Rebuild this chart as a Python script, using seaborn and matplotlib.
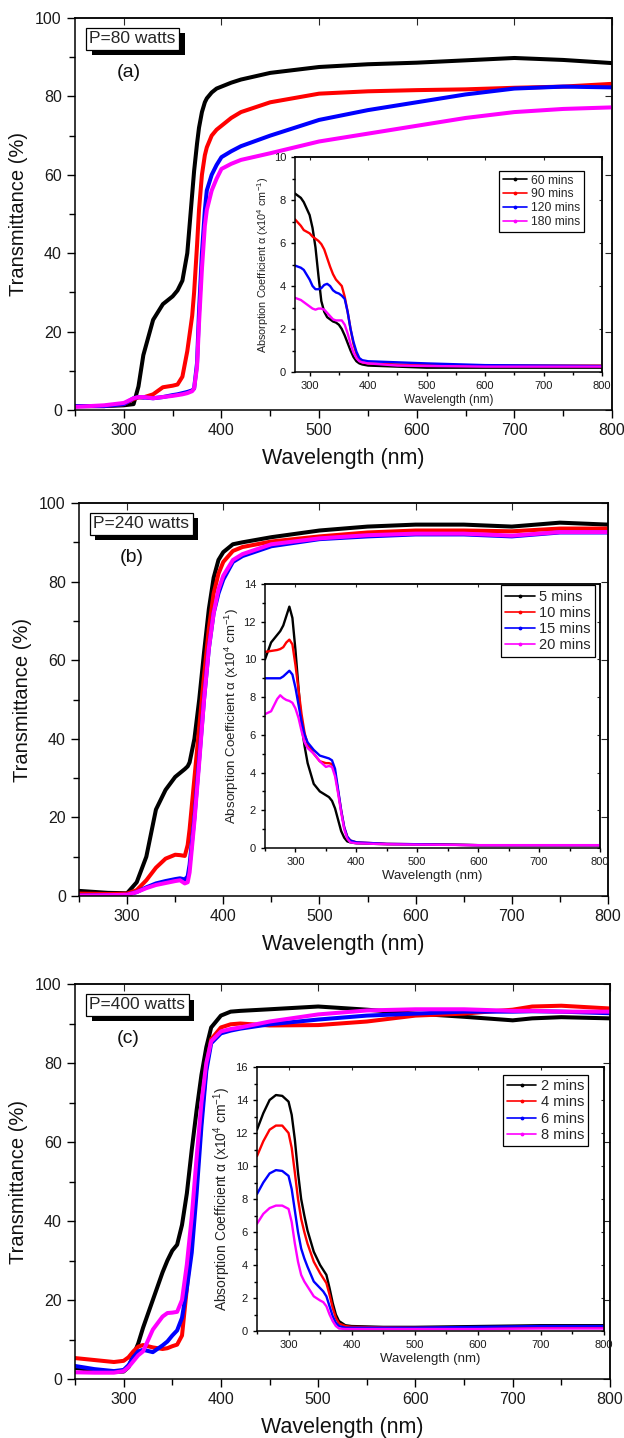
import numpy as np
import pandas as pd
import matplotlib
matplotlib.use("Agg")
import matplotlib.pyplot as plt
import matplotlib.patheffects as pe
from matplotlib.lines import Line2D
from matplotlib.ticker import MultipleLocator
import seaborn as sns

# ---------------- data ----------------
colors = ["#000000", "#ff0000", "#0000ff", "#ff00ff"]

# (a) P = 80 watts, main transmittance
wl_a = [250, 280, 300, 310, 315, 320, 330, 340, 350, 355, 360, 365, 370, 372, 375, 377,
        380, 383, 385, 390, 395, 400, 410, 420, 450, 500, 550, 600, 650, 700, 750, 800]
T_a_60 = [1.0, 1.0, 1.2, 1.5, 6, 14, 23, 27, 29, 30.5, 33, 40, 55, 61, 68, 72,
          76, 78.5, 79.5, 81, 82, 82.5, 83.5, 84.3, 86, 87.5, 88.2, 88.6, 89.2, 89.8, 89.3, 88.5]
T_a_90 = [1.0, 1.0, 1.5, 2.8, 3.2, 3.2, 4.0, 5.8, 6.2, 6.5, 8.5, 15, 24, 30, 42, 51,
          60, 65, 67, 70, 71.5, 72.5, 74.5, 76, 78.5, 80.7, 81.3, 81.6, 81.8, 82.2, 82.5, 83.2]
T_a_120 = [1.0, 1.0, 1.5, 3.0, 3.3, 3.2, 3.0, 3.3, 3.8, 4.0, 4.3, 4.6, 5.0, 5.5, 12, 25,
           40, 51, 56, 60, 62.5, 64.5, 66, 67.3, 70, 74, 76.5, 78.5, 80.5, 82, 82.5, 82.3]
T_a_180 = [0.8, 1.2, 1.8, 3.0, 3.3, 3.3, 3.0, 3.3, 3.6, 3.8, 4.0, 4.3, 4.8, 5.5, 11, 22,
           36, 47, 51, 56, 59, 61.5, 62.8, 63.8, 65.5, 68.5, 70.5, 72.5, 74.5, 76, 76.8, 77.2]
lab_a = ["60 mins", "90 mins", "120 mins", "180 mins"]

# (a) inset, absorption coefficient
wl_ia = [275, 285, 290, 300, 305, 310, 315, 320, 325, 330, 335, 340, 345, 350, 355, 360,
         365, 370, 375, 380, 385, 390, 400, 450, 500, 600, 700, 800]
A_a_60 = [8.3, 8.1, 7.9, 7.3, 6.7, 5.8, 4.5, 3.3, 2.8, 2.55, 2.45, 2.35, 2.3, 2.2, 2.0, 1.7,
          1.35, 1.0, 0.7, 0.5, 0.4, 0.35, 0.3, 0.25, 0.2, 0.2, 0.2, 0.2]
A_a_90 = [7.1, 6.8, 6.6, 6.45, 6.3, 6.2, 6.1, 5.95, 5.7, 5.3, 4.9, 4.55, 4.3, 4.15, 4.0, 3.5,
          2.8, 2.0, 1.3, 0.85, 0.55, 0.45, 0.4, 0.35, 0.32, 0.3, 0.3, 0.3]
A_a_120 = [4.95, 4.85, 4.75, 4.3, 4.0, 3.85, 3.85, 3.9, 4.05, 4.1, 4.0, 3.8, 3.7, 3.65, 3.55, 3.4,
           2.8, 2.0, 1.4, 0.95, 0.65, 0.55, 0.5, 0.45, 0.4, 0.32, 0.3, 0.28]
A_a_180 = [3.45, 3.35, 3.25, 3.05, 2.95, 2.9, 2.95, 2.95, 2.9, 2.75, 2.6, 2.45, 2.4, 2.4, 2.4, 2.2,
           1.8, 1.3, 0.9, 0.65, 0.5, 0.45, 0.4, 0.3, 0.28, 0.25, 0.25, 0.25]

# (b) P = 240 watts
wl_b = [250, 280, 300, 310, 320, 330, 340, 350, 355, 360, 363, 365, 370, 375, 380, 385,
        390, 395, 400, 410, 420, 450, 500, 550, 600, 650, 700, 750, 800]
T_b_5 = [1.3, 0.8, 0.7, 3.5, 10, 22, 27, 30.3, 31.3, 32.3, 33, 34, 40, 50, 62, 73,
         81, 85.5, 87.5, 89.5, 90, 91.3, 93, 94, 94.5, 94.5, 94, 95, 94.5]
T_b_10 = [0.6, 0.5, 0.6, 1.5, 4, 7.2, 9.5, 10.5, 10.4, 10.2, 13, 17, 30, 43, 56, 68,
          77, 82, 85, 87.8, 88.8, 90.2, 91.5, 92.5, 93, 93, 92.8, 93.5, 93.5]
T_b_15 = [0.1, 0.2, 0.3, 1.0, 2.2, 3.2, 3.8, 4.3, 4.5, 4.2, 5, 8, 20, 35, 50, 63,
          72, 77, 80.5, 85, 86.5, 89, 90.8, 91.5, 92, 92, 91.5, 92.5, 92.5]
T_b_20 = [0.1, 0.2, 0.3, 1.0, 2.0, 2.8, 3.3, 3.8, 4.0, 3.2, 3.5, 6, 19, 34, 50, 63,
          72, 78, 81.5, 85.5, 87, 89.5, 91, 91.8, 92.2, 92.2, 91.7, 92.6, 92.6]
lab_b = ["5 mins", "10 mins", "15 mins", "20 mins"]

wl_ib = [250, 260, 270, 275, 280, 285, 290, 295, 300, 305, 310, 315, 320, 330, 340, 350,
         355, 360, 365, 370, 375, 380, 385, 390, 400, 450, 500, 600, 700, 800]
A_b_5 = [10.0, 10.9, 11.3, 11.5, 11.8, 12.3, 12.8, 12.2, 10.5, 8.5, 6.5, 5.4, 4.5, 3.4, 3.0, 2.8,
         2.7, 2.5, 2.1, 1.5, 0.9, 0.55, 0.35, 0.3, 0.25, 0.2, 0.2, 0.15, 0.15, 0.15]
A_b_10 = [10.4, 10.45, 10.5, 10.55, 10.65, 10.9, 11.05, 10.8, 9.7, 8.4, 7.1, 6.1, 5.5, 5.0, 4.6, 4.5,
          4.5, 4.45, 4.0, 3.0, 2.0, 1.1, 0.6, 0.4, 0.3, 0.22, 0.2, 0.15, 0.15, 0.15]
A_b_15 = [9.0, 9.0, 9.0, 9.0, 9.1, 9.25, 9.4, 9.2, 8.5, 7.6, 6.7, 6.0, 5.6, 5.2, 4.9, 4.8,
          4.75, 4.65, 4.2, 3.1, 2.0, 1.1, 0.6, 0.4, 0.3, 0.22, 0.2, 0.15, 0.15, 0.15]
A_b_20 = [7.1, 7.25, 7.9, 8.1, 7.95, 7.85, 7.8, 7.7, 7.4, 6.9, 6.2, 5.6, 5.3, 5.0, 4.6, 4.3,
          4.35, 4.3, 3.8, 2.9, 1.9, 1.0, 0.5, 0.3, 0.25, 0.2, 0.18, 0.15, 0.15, 0.15]

# (c) P = 400 watts
wl_c = [250, 270, 290, 300, 305, 310, 315, 320, 330, 340, 345, 350, 355, 360, 365, 370,
        375, 380, 385, 390, 400, 410, 420, 450, 500, 550, 600, 650, 700, 720, 750, 800]
T_c_2 = [2.8, 2.2, 1.8, 1.9, 3, 6, 9, 13, 20, 27, 30, 32.5, 34, 39, 47, 58,
         68, 77, 84, 89, 92, 93, 93.2, 93.6, 94.3, 93.5, 92.5, 91.7, 90.8, 91.3, 91.6, 91.3]
T_c_4 = [5.3, 4.8, 4.3, 4.6, 5.5, 7, 8.2, 8.6, 8, 7.6, 7.8, 8.3, 8.7, 11, 23, 36,
         50, 66, 79, 86, 89, 89.8, 90, 89.5, 89.6, 90.5, 92, 92.5, 93.5, 94.3, 94.5, 93.8]
T_c_6 = [3.3, 2.5, 2.0, 2.3, 3.5, 5.5, 7, 7.4, 6.8, 8.5, 9.5, 11, 12.3, 15.5, 23, 32,
         47, 64, 78, 85, 87.5, 88.2, 88.7, 89.8, 91, 92, 92.5, 93, 93, 93.1, 93, 92.6]
T_c_8 = [1.7, 1.6, 1.6, 2.0, 3, 4.5, 6, 7, 12.5, 15.8, 16.7, 16.8, 17, 20, 29, 41,
         56, 70, 80, 85.5, 88, 88.6, 89, 90.5, 92.3, 93.3, 93.6, 93.6, 93.2, 93.2, 93, 93]
lab_c = ["2 mins", "4 mins", "6 mins", "8 mins"]

wl_ic = [250, 260, 270, 280, 290, 300, 305, 310, 315, 320, 325, 330, 340, 350, 355, 360,
         365, 370, 375, 380, 390, 400, 450, 500, 600, 700, 800]
A_c_2 = [12.2, 13.2, 14.0, 14.3, 14.25, 13.9, 13.1, 11.6, 9.6, 8.0, 7.0, 6.1, 4.8, 4.0, 3.7, 3.4,
         2.6, 1.7, 1.0, 0.6, 0.35, 0.3, 0.25, 0.25, 0.3, 0.35, 0.35]
A_c_4 = [10.6, 11.5, 12.2, 12.45, 12.45, 12.0, 11.1, 9.6, 8.0, 6.8, 6.0, 5.3, 4.2, 3.5, 3.2, 2.9,
         2.2, 1.4, 0.8, 0.45, 0.3, 0.25, 0.22, 0.2, 0.22, 0.25, 0.25]
A_c_6 = [8.3, 9.0, 9.55, 9.75, 9.7, 9.4, 8.6, 7.3, 6.0, 5.0, 4.4, 3.9, 3.0, 2.6, 2.4, 2.1,
         1.5, 0.9, 0.5, 0.3, 0.2, 0.2, 0.2, 0.2, 0.25, 0.3, 0.3]
A_c_8 = [6.5, 7.1, 7.45, 7.6, 7.6, 7.4, 6.6, 5.3, 4.2, 3.4, 3.0, 2.7, 2.1, 1.85, 1.75, 1.5,
         1.0, 0.6, 0.3, 0.15, 0.12, 0.12, 0.12, 0.12, 0.12, 0.15, 0.15]

# ---------------- style ----------------
sns.set_style("ticks")
plt.rcParams["font.family"] = ["Liberation Sans", "DejaVu Sans"]
plt.rcParams["mathtext.fontset"] = "custom"
plt.rcParams["mathtext.rm"] = "Liberation Sans"
plt.rcParams["mathtext.it"] = "Liberation Sans:italic"
plt.rcParams["axes.linewidth"] = 1.1

fig = plt.figure(figsize=(6.24, 14.38), dpi=100)
H = 1438.0
W = 624.0


def box(left, top, right, bottom):
    return [left / W, 1 - bottom / H, (right - left) / W, (bottom - top) / H]


def style_axes(ax, size, major, minor_len):
    ax.tick_params(which="both", direction="out", top=False, right=False, labelsize=size,
                   width=1.0, color="black", labelcolor="#1a1a1a")
    ax.tick_params(which="major", length=major)
    ax.tick_params(which="minor", length=minor_len)
    for s in ax.spines.values():
        s.set_visible(True)
        s.set_color("black")
    # inward ticks on top/right, as in the original software
    ax.secondary_xaxis("top").tick_params(direction="in", labeltop=False, length=major * 0.8)
    ax.secondary_yaxis("right").tick_params(direction="in", labelright=False, length=major * 0.8)


def main_panel(rect, wl, series, ptext, letter):
    ax = fig.add_axes(rect)
    for vals, c in zip(series, colors):
        sns.lineplot(x=wl, y=vals, color=c, lw=2.9, ax=ax)
    ax.set_xlim(250, 800)
    ax.set_ylim(0, 100)
    ax.xaxis.set_major_locator(MultipleLocator(100))
    ax.xaxis.set_minor_locator(MultipleLocator(50))
    ax.yaxis.set_major_locator(MultipleLocator(20))
    ax.yaxis.set_minor_locator(MultipleLocator(10))
    style_axes(ax, 11.5, 6, 4)
    ax.set_xlabel("Wavelength (nm)", fontsize=15.5, labelpad=7, color="#111111")
    ax.set_ylabel("Transmittance (%)", fontsize=14.5, labelpad=5, color="#111111")
    t = ax.text(0.027, 0.947, ptext, transform=ax.transAxes, fontsize=12.5, va="center", ha="left",
                bbox=dict(boxstyle="square,pad=0.2", fc="white", ec="black", lw=0.9))
    t.get_bbox_patch().set_path_effects([
        pe.SimplePatchShadow(offset=(4, -4), shadow_rgbFace="black", alpha=1.0), pe.Normal()])
    ax.text(0.1, 0.862, letter, transform=ax.transAxes, fontsize=14, ha="center", va="center",
            color="#111111")
    return ax


def inset_panel(rect, wl, series, labels, xmin, ymax, ystep, fs, leg_anchor):
    ax = fig.add_axes(rect)
    for vals, c in zip(series, colors):
        sns.lineplot(x=wl, y=vals, color=c, lw=1.7, ax=ax)
    ax.set_xlim(xmin, 800)
    ax.set_ylim(0, ymax)
    ax.xaxis.set_major_locator(MultipleLocator(100))
    ax.xaxis.set_minor_locator(MultipleLocator(50))
    ax.yaxis.set_major_locator(MultipleLocator(ystep))
    ax.yaxis.set_minor_locator(MultipleLocator(ystep / 2))
    style_axes(ax, fs["tick"], 3, 2)
    ax.set_xlabel("Wavelength (nm)", fontsize=fs["xl"], labelpad=2, color="#222222")
    ax.set_ylabel(r"Absorption Coefficient α (x10$^{4}$ cm$^{-1}$)", fontsize=fs["yl"],
                  labelpad=2, color="#222222")
    handles = [Line2D([], [], color=c, lw=1.2, marker=".", markersize=3.5) for c in colors]
    leg = ax.legend(handles, labels, loc="upper right", bbox_to_anchor=leg_anchor,
                    borderaxespad=0, fontsize=fs["leg"], frameon=True, fancybox=False,
                    framealpha=1, edgecolor="black", handlelength=2.0, handletextpad=0.3,
                    borderpad=0.3, labelspacing=0.15)
    leg.get_frame().set_linewidth(0.9)
    return ax


# ---------------- panel (a) ----------------
main_panel(box(75, 18, 612, 410), wl_a, [T_a_60, T_a_90, T_a_120, T_a_180], "P=80 watts", "(a)")
inset_panel(box(295, 157, 602, 372), wl_ia, [A_a_60, A_a_90, A_a_120, A_a_180], lab_a,
            275, 10, 2, {"tick": 8, "xl": 8.5, "yl": 7.8, "leg": 8.7}, (0.94, 0.935))

# ---------------- panel (b) ----------------
main_panel(box(79, 503, 608, 896), wl_b, [T_b_5, T_b_10, T_b_15, T_b_20], "P=240 watts", "(b)")
inset_panel(box(265, 584, 600, 848), wl_ib, [A_b_5, A_b_10, A_b_15, A_b_20], lab_b,
            250, 14, 2, {"tick": 8, "xl": 9.5, "yl": 9.6, "leg": 10.5}, (0.985, 0.995))

# ---------------- panel (c) ----------------
main_panel(box(75, 984, 610, 1379), wl_c, [T_c_2, T_c_4, T_c_6, T_c_8], "P=400 watts", "(c)")
inset_panel(box(257, 1067, 604, 1331), wl_ic, [A_c_2, A_c_4, A_c_6, A_c_8], lab_c,
            250, 16, 2, {"tick": 8, "xl": 9.5, "yl": 10, "leg": 10.5}, (0.955, 0.97))

fig.savefig("out.png", dpi=100, facecolor="white")
